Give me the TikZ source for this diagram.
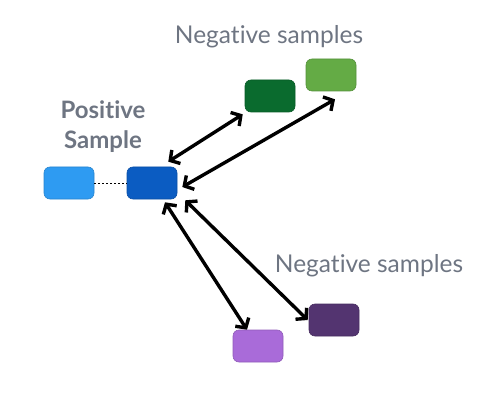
\documentclass[tikz,border=0pt]{standalone}
\usepackage{fontspec}
\setmainfont{Lato}[Ligatures=NoCommon]
\usetikzlibrary{arrows.meta,calc}
\definecolor{lblue}{HTML}{2E9BF2}
\definecolor{dblue}{HTML}{0B5CC2}
\definecolor{dgreen}{HTML}{0A6B2E}
\definecolor{lgreen}{HTML}{64AB45}
\definecolor{lpurple}{HTML}{A96BD9}
\definecolor{dpurple}{HTML}{533470}
\definecolor{txtgray}{HTML}{6E7582}
\tikzset{
  box/.style={draw=#1!85!black, line width=0.6pt, fill=#1, rounded corners=6pt, minimum width=50pt, minimum height=32pt, inner sep=0pt},
  arr/.style={line width=3.4pt, {Straight Barb[length=7pt,width=16pt,line width=3.4pt]}-{Straight Barb[length=7pt,width=16pt,line width=3.4pt]}},
  lbl/.style={text=txtgray, font=\fontsize{24.5}{28}\selectfont, inner sep=0pt},
}
\begin{document}
\begin{tikzpicture}[x=1pt,y=-1pt]
\useasboundingbox (0,0) rectangle (486,403);
\node[box=lblue] (lb) at (69,183) {};
\node[box=dblue] (b) at (152,183) {};
\node[box=dgreen] (dg) at (270,96) {};
\node[box=lgreen] (lg) at (331,75) {};
\node[box=lpurple] (lp) at (258,346) {};
\node[box=dpurple] (dp) at (334,320) {};
\node[lbl] (n1) at (269,37) {Negative samples};
\node[lbl] (n2) at (369,266) {Negative samples};
\node[text=txtgray, font=\bfseries\fontsize{24}{30}\selectfont, align=center, inner sep=0pt] (pos) at (103,127) {Positive\\Sample};
\draw[line width=0.8pt, dash pattern=on 2pt off 2pt] (lb.east) -- (b.west);
\draw[arr] ([shift={(-9,-5)}]b.north east) -- ([shift={(-2,2)}]dg.south west);
\draw[arr] ([shift={(5,4)}]b.east) -- ([shift={(4,8)}]lg.south);
\draw[arr] ([shift={(13,3)}]b.south) -- ([shift={(-11,0)}]lp.north);
\draw[arr] ([shift={(8,1)}]b.south east) -- ([shift={(-1,0)}]dp.west);
\end{tikzpicture}
\end{document}
